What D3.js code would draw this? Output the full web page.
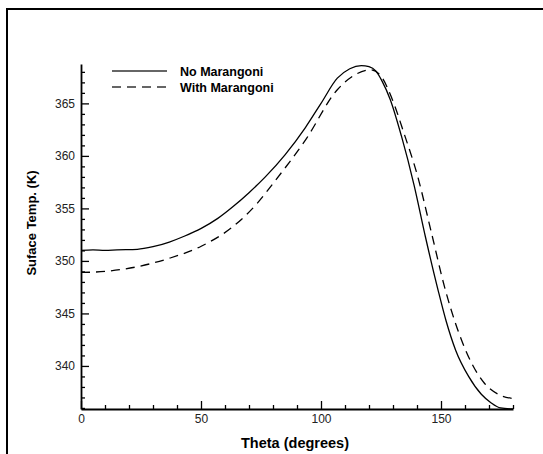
<!DOCTYPE html>
<html>
<head>
<meta charset="utf-8">
<script src="https://cdn.jsdelivr.net/npm/d3@7"></script>
<style>
  body { margin: 0; background: #fff; }
  text { font-family: "Liberation Sans", Arial, sans-serif; }
</style>
</head>
<body>
<div id="chart"></div>
<script>
// --- Daten ---
const thetaNo = [0, 5, 10, 15, 23.5, 30, 36.8, 43, 50.1, 57, 63.5, 70, 76.8, 85, 93.5, 100, 106.8, 112, 116.8, 120, 122.8, 125.5, 128.8, 133.5, 138.8, 143.5, 148.8, 152.1, 156.1, 161.5, 166.8, 170.8, 174.8, 180];
const tempNo = [351.0, 351.05, 351.0, 351.05, 351.1, 351.35, 351.8, 352.35, 353.1, 354.05, 355.2, 356.5, 358.0, 360.1, 362.7, 365.0, 367.4, 368.3, 368.6, 368.5, 368.1, 367.1, 365.4, 361.9, 357.2, 352.3, 347.2, 344.3, 341.5, 339.0, 337.3, 336.5, 336.0, 335.9];

const thetaWith = [0, 10, 23.5, 36.8, 50.1, 63.5, 73.5, 80.1, 93.5, 106.8, 114, 120.8, 125, 129.5, 134.8, 140.1, 146.1, 151.5, 157.5, 162.8, 168.1, 174.8, 180];
const tempWith = [348.9, 349.0, 349.45, 350.25, 351.4, 353.3, 355.5, 357.4, 361.5, 366.3, 367.7, 368.2, 367.6, 365.5, 362.0, 358.2, 352.6, 347.5, 343.1, 340.25, 338.35, 337.2, 336.9];

const seriesNames = ["No Marangoni", "With Marangoni"];
const xTicks = [0, 50, 100, 150];
const yTicks = [340, 345, 350, 355, 360, 365];
const xLabel = "Theta (degrees)";
const yLabel = "Suface Temp. (K)";

// --- Zeichenbereich ---
const W = 543, H = 454;
const margin = { top: 64, right: 30, bottom: 45, left: 81 };
const width = W - margin.left - margin.right;
const height = H - margin.top - margin.bottom;

const svg = d3.select("#chart")
    .append("svg")
    .attr("width", W)
    .attr("height", H);

// äußerer Rahmen (rechts/unten abgeschnitten)
svg.append("rect")
    .attr("x", 7)
    .attr("y", 9)
    .attr("width", 600)
    .attr("height", 600)
    .attr("fill", "none")
    .attr("stroke", "#000")
    .attr("stroke-width", 2);

const g = svg.append("g")
    .attr("transform", `translate(${margin.left},${margin.top})`);

// Skalen
const x = d3.scaleLinear().domain([0, 180]).range([0, width]);
const y = d3.scaleLinear().domain([335.9, 368.75]).range([height, 0]);

// Nebenstriche
const xMinor = d3.range(0, 181, 10).filter(v => !xTicks.includes(v));
const yMinor = d3.range(336, 369, 1).filter(v => !yTicks.includes(v));

g.append("g")
    .attr("transform", `translate(0,${height})`)
    .call(d3.axisBottom(x).tickValues(xMinor).tickSizeInner(-4).tickSizeOuter(0).tickFormat(""))
    .call(a => a.select(".domain").remove());

g.append("g")
    .call(d3.axisLeft(y).tickValues(yMinor).tickSizeInner(-4).tickSizeOuter(0).tickFormat(""))
    .call(a => a.select(".domain").remove());

// Hauptachsen
g.append("g")
    .attr("transform", `translate(0,${height})`)
    .call(d3.axisBottom(x).tickValues(xTicks).tickSizeInner(-8).tickSizeOuter(0).tickPadding(5));

g.append("g")
    .call(d3.axisLeft(y).tickValues(yTicks).tickSizeInner(-8).tickSizeOuter(0).tickPadding(6));

g.selectAll(".tick line").attr("stroke", "#000").attr("stroke-width", 1.3);
g.selectAll(".domain").attr("stroke", "#000").attr("stroke-width", 1.8);
g.selectAll(".tick text").attr("font-size", 12).attr("fill", "#222")
    .style("font-family", "'Liberation Sans', Arial, sans-serif");

// Achsentitel
svg.append("text")
    .attr("x", 295)
    .attr("y", 448)
    .attr("text-anchor", "middle")
    .attr("font-size", 14.5)
    .attr("font-weight", "bold")
    .text(xLabel);

svg.append("text")
    .attr("transform", "translate(36,223) rotate(-90)")
    .attr("text-anchor", "middle")
    .attr("font-size", 13)
    .attr("font-weight", "bold")
    .text(yLabel);

// Linien
const line = d3.line()
    .x(d => x(d[0]))
    .y(d => y(d[1]))
    .curve(d3.curveMonotoneX);

const dataNo = thetaNo.map((t, i) => [t, tempNo[i]]);
const dataWith = thetaWith.map((t, i) => [t, tempWith[i]]);

g.append("path")
    .datum(dataNo)
    .attr("fill", "none")
    .attr("stroke", "#000")
    .attr("stroke-width", 1.3)
    .attr("d", line);

g.append("path")
    .datum(dataWith)
    .attr("fill", "none")
    .attr("stroke", "#000")
    .attr("stroke-width", 1.3)
    .attr("stroke-dasharray", "9,6")
    .attr("d", line);

// Legende
const legend = svg.append("g");
seriesNames.forEach((name, i) => {
    const ly = 71 + i * 16;
    legend.append("line")
        .attr("x1", 112).attr("x2", 167)
        .attr("y1", ly).attr("y2", ly)
        .attr("stroke", "#333")
        .attr("stroke-width", 1.5)
        .attr("stroke-dasharray", i === 0 ? null : "9,6");
    legend.append("text")
        .attr("x", 180)
        .attr("y", ly + 4.5)
        .attr("font-size", 12.5)
        .attr("font-weight", "bold")
        .text(name);
});
</script>
</body>
</html>
